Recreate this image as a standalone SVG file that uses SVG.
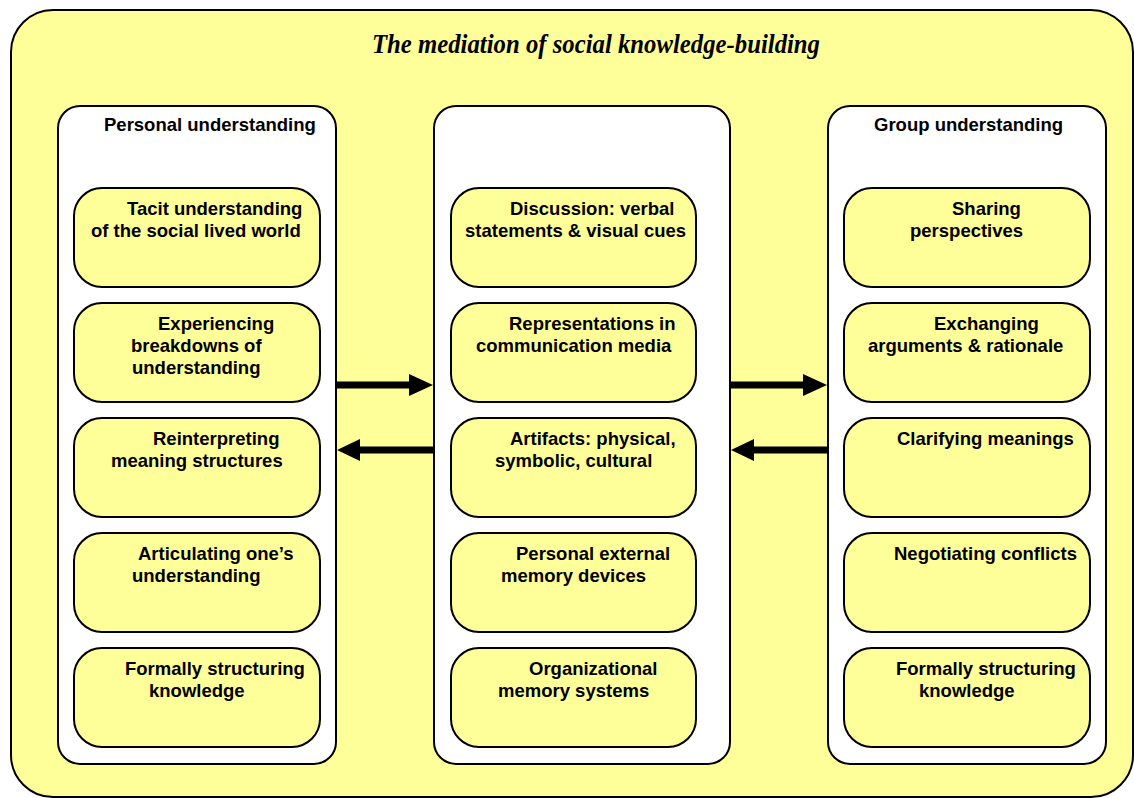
<svg xmlns="http://www.w3.org/2000/svg" width="1134" height="798" viewBox="0 0 1134 798">
<style>
.outer{fill:#FFFF99;stroke:#000;stroke-width:2}
.panel{fill:#FFFFFF;stroke:#000;stroke-width:2}
.box{fill:#FFFF99;stroke:#000;stroke-width:2}
.t{font-family:"Liberation Sans",Arial,sans-serif;font-weight:bold;font-size:18.5px;fill:#000}
.title{font-family:"Liberation Serif","DejaVu Serif",serif;font-weight:bold;font-style:italic;font-size:27px;fill:#000}
.arrow{fill:#000}
</style>
<rect class="outer" x="11" y="10" width="1122" height="787" rx="42" ry="42"/>
<text class="title" x="372" y="53" textLength="448" lengthAdjust="spacingAndGlyphs">The mediation of social knowledge-building</text>

<g id="panel-personal">
<rect class="panel" x="58" y="106" width="278" height="658" rx="22" ry="22"/>
<text class="t" x="104" y="131">Personal understanding</text>
</g>
<g id="panel-mediation">
<rect class="panel" x="434" y="106" width="296" height="658" rx="22" ry="22"/>
</g>
<g id="panel-group">
<rect class="panel" x="828" y="106" width="278" height="658" rx="22" ry="22"/>
<text class="t" x="874" y="131">Group understanding</text>
</g>

<g id="p1"><rect class="box" x="74" y="188" width="246" height="99" rx="28" ry="28"/>
<text class="t" x="127" y="215">Tacit understanding</text><text class="t" x="91" y="237">of the social lived world</text></g>
<g id="p2"><rect class="box" x="74" y="303" width="246" height="99" rx="28" ry="28"/>
<text class="t" x="158" y="330">Experiencing</text><text class="t" x="131" y="352">breakdowns of</text><text class="t" x="132" y="374">understanding</text></g>
<g id="p3"><rect class="box" x="74" y="418" width="246" height="99" rx="28" ry="28"/>
<text class="t" x="153" y="445">Reinterpreting</text><text class="t" x="111" y="467">meaning structures</text></g>
<g id="p4"><rect class="box" x="74" y="533" width="246" height="99" rx="28" ry="28"/>
<text class="t" x="138" y="560">Articulating one’s</text><text class="t" x="132" y="582">understanding</text></g>
<g id="p5"><rect class="box" x="74" y="648" width="246" height="99" rx="28" ry="28"/>
<text class="t" x="125" y="675">Formally structuring</text><text class="t" x="149" y="697">knowledge</text></g>

<g id="m1"><rect class="box" x="451" y="188" width="245" height="99" rx="28" ry="28"/>
<text class="t" x="510" y="215">Discussion: verbal</text><text class="t" x="465" y="237">statements &amp; visual cues</text></g>
<g id="m2"><rect class="box" x="451" y="303" width="245" height="99" rx="28" ry="28"/>
<text class="t" x="509" y="330">Representations in</text><text class="t" x="476" y="352">communication media</text></g>
<g id="m3"><rect class="box" x="451" y="418" width="245" height="99" rx="28" ry="28"/>
<text class="t" x="510" y="445">Artifacts: physical,</text><text class="t" x="495" y="467">symbolic, cultural</text></g>
<g id="m4"><rect class="box" x="451" y="533" width="245" height="99" rx="28" ry="28"/>
<text class="t" x="516" y="560">Personal external</text><text class="t" x="501" y="582">memory devices</text></g>
<g id="m5"><rect class="box" x="451" y="648" width="245" height="99" rx="28" ry="28"/>
<text class="t" x="529" y="675">Organizational</text><text class="t" x="498" y="697">memory systems</text></g>

<g id="g1"><rect class="box" x="844" y="188" width="246" height="99" rx="28" ry="28"/>
<text class="t" x="952" y="215">Sharing</text><text class="t" x="910" y="237">perspectives</text></g>
<g id="g2"><rect class="box" x="844" y="303" width="246" height="99" rx="28" ry="28"/>
<text class="t" x="934" y="330">Exchanging</text><text class="t" x="868" y="352">arguments &amp; rationale</text></g>
<g id="g3"><rect class="box" x="844" y="418" width="246" height="99" rx="28" ry="28"/>
<text class="t" x="897" y="445">Clarifying meanings</text></g>
<g id="g4"><rect class="box" x="844" y="533" width="246" height="99" rx="28" ry="28"/>
<text class="t" x="894" y="560">Negotiating conflicts</text></g>
<g id="g5"><rect class="box" x="844" y="648" width="246" height="99" rx="28" ry="28"/>
<text class="t" x="896" y="675">Formally structuring</text><text class="t" x="919" y="697">knowledge</text></g>

<g id="connectors">
<polygon class="arrow" points="337,381.5 409,381.5 409,374 433,385 409,396 409,388.5 337,388.5"/>
<polygon class="arrow" points="433,446.5 360,446.5 360,439 337,450 360,461 360,453.5 433,453.5"/>
<polygon class="arrow" points="731,381.5 803,381.5 803,374 827,385 803,396 803,388.5 731,388.5"/>
<polygon class="arrow" points="827,446.5 754,446.5 754,439 731,450 754,461 754,453.5 827,453.5"/>
</g>
</svg>
